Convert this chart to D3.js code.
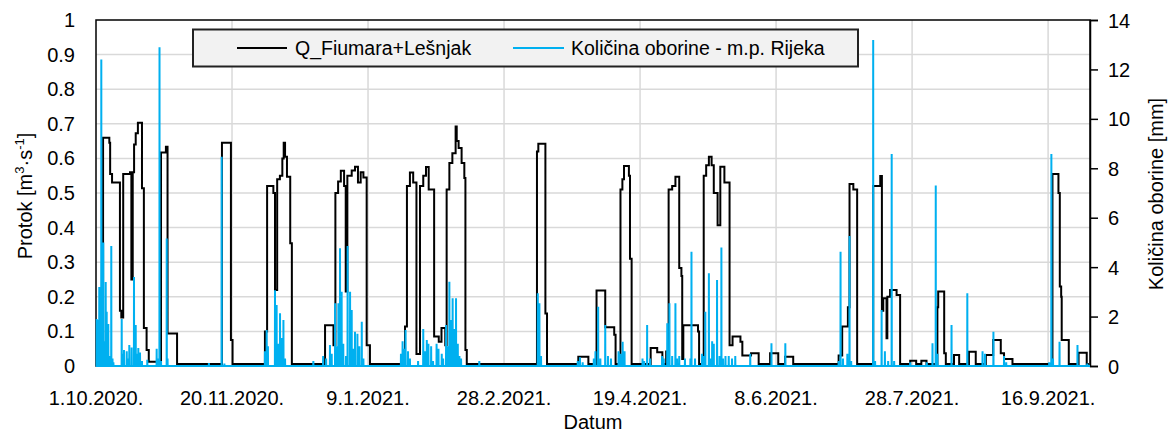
<!DOCTYPE html>
<html>
<head>
<meta charset="utf-8">
<script src="https://cdn.jsdelivr.net/npm/d3@7"></script>
<style>
  body { margin: 0; background: #fff; }
  text { font-family: "Liberation Sans", Arial, sans-serif; fill: #000; }
</style>
</head>
<body>
<div id="chart"></div>
<script>
// day offsets counted from 1.10.2020
var qSteps = [
  [0, 0.0], [2.6, 0.66], [4.9, 0.645], [5.2, 0.555], [5.9, 0.53], [8.8, 0.16], [9.3, 0.14],
  [10.0, 0.555], [12.5, 0.56], [13.0, 0.25], [13.5, 0.56], [14.0, 0.64], [14.6, 0.673],
  [15.4, 0.703], [16.9, 0.514], [17.6, 0.11], [18.6, 0.046], [19.4, 0.012],
  [23.9, 0.617], [25.7, 0.634], [26.3, 0.094], [29.8, 0.006],
  [46.3, 0.645], [49.6, 0.075], [50.2, 0.006],
  [62.1, 0.1], [62.9, 0.52], [65.2, 0.5], [65.8, 0.22], [66.6, 0.54], [67.6, 0.55],
  [68.5, 0.6], [69.0, 0.645], [69.5, 0.605], [70.2, 0.547], [71.4, 0.355], [72.0, 0.006],
  [84.2, 0.118], [87.3, 0.06], [88.0, 0.5], [89.0, 0.533], [90.0, 0.564], [91.2, 0.52],
  [91.8, 0.215], [92.4, 0.55], [94.0, 0.565], [95.2, 0.576], [96.3, 0.53], [97.3, 0.56],
  [98.3, 0.545], [99.5, 0.06], [100.7, 0.006],
  [113.6, 0.114], [114.3, 0.52], [115.4, 0.559], [116.6, 0.53], [117.8, 0.035],
  [119.1, 0.52], [120.3, 0.55], [121.3, 0.575], [122.3, 0.51], [124.3, 0.085], [126.0, 0.07],
  [127.0, 0.11], [128.4, 0.06], [128.9, 0.51], [129.9, 0.587], [131.0, 0.615], [132.2, 0.692],
  [132.6, 0.65], [133.3, 0.63], [134.4, 0.587], [135.4, 0.543], [135.8, 0.046], [136.3, 0.006],
  [162.1, 0.62], [162.6, 0.642], [165.2, 0.152], [165.8, 0.006],
  [177.3, 0.027], [181.0, 0.006],
  [184.0, 0.218], [187.2, 0.112], [190.5, 0.09], [191.0, 0.006],
  [192.8, 0.51], [193.5, 0.54], [194.1, 0.578], [195.9, 0.55], [196.3, 0.31], [196.9, 0.006],
  [203.9, 0.052], [206.3, 0.04], [208.2, 0.006], [209.6, 0.042], [210.5, 0.51], [211.8, 0.52],
  [213.0, 0.547], [214.4, 0.283], [215.2, 0.26], [215.5, 0.02], [215.9, 0.118], [221.3, 0.1],
  [221.7, 0.006],
  [223.4, 0.55], [224.3, 0.58], [225.3, 0.605], [226.3, 0.58], [227.1, 0.5], [228.5, 0.407],
  [229.5, 0.576], [231.0, 0.53], [232.9, 0.06], [234.0, 0.085], [236.9, 0.07], [237.6, 0.03],
  [240.8, 0.037], [243.6, 0.006],
  [247.8, 0.037], [250.8, 0.006], [253.3, 0.027], [256.3, 0.006],
  [273.0, 0.03], [274.3, 0.114], [276.4, 0.17], [277.0, 0.526], [278.4, 0.51], [279.8, 0.006],
  [285.7, 0.52], [288.3, 0.549], [288.9, 0.16], [289.4, 0.196], [290.6, 0.08], [290.9, 0.2],
  [291.9, 0.22], [294.3, 0.205], [295.6, 0.006],
  [299.3, 0.015], [301.5, 0.006], [303.4, 0.015], [305.3, 0.006],
  [309.3, 0.17], [309.6, 0.215], [311.8, 0.037], [312.4, 0.006], [315.4, 0.032], [317.3, 0.006],
  [320.9, 0.041], [323.4, 0.006], [327.1, 0.032], [329.8, 0.075], [332.6, 0.037], [333.8, 0.02],
  [336.9, 0.006],
  [351.6, 0.555], [353.8, 0.5], [354.3, 0.23], [354.8, 0.2], [355.0, 0.075], [357.6, 0.006],
  [361.2, 0.038], [364.2, 0.006], [365, 0.006]
];

var rainEvents = [
  [0.26, 1.9], [0.55, 1.5], [0.85, 1.86], [1.2, 3.2], [1.47, 2.5], [1.95, 12.4], [2.3, 1.2],
  [2.68, 5.0], [3.1, 1.0], [3.57, 3.4], [3.93, 2.2], [4.52, 1.7], [4.96, 0.4], [5.62, 4.86],
  [6.07, 0.3], [6.4, 0.15],
  [9.45, 1.9], [9.74, 0.5], [10.3, 0.65], [11.3, 0.6], [11.76, 0.3], [12.24, 0.85], [13.1, 0.75],
  [13.97, 3.6], [14.6, 1.66], [15.07, 0.5], [15.55, 0.73], [16.18, 0.55], [16.9, 0.2], [18.86, 0.25],
  [22.3, 0.7], [22.6, 0.3], [23.35, 12.9], [23.9, 0.2], [26.0, 5.16], [26.3, 0.3],
  [41.5, 0.12], [46.2, 8.47], [47.2, 0.1],
  [62.1, 0.6], [62.75, 1.46], [63.2, 0.8], [65.8, 3.07], [66.4, 2.47], [67.0, 0.9], [67.65, 2.13],
  [68.3, 1.13], [68.9, 1.86], [69.5, 0.3], [79.9, 0.2],
  [83.5, 0.4], [84.6, 0.3], [86.0, 0.85], [86.65, 0.5], [87.9, 2.54], [88.5, 0.8], [89.1, 2.54],
  [89.7, 4.76], [90.3, 3.0], [90.9, 0.9], [91.9, 0.4], [92.5, 4.86], [93.4, 3.0], [94.0, 2.27],
  [94.6, 0.7], [95.2, 1.39], [96.1, 1.3], [96.8, 0.8], [97.7, 1.79], [98.3, 0.3],
  [112.1, 0.5], [112.7, 1.0], [113.2, 0.7], [113.8, 1.46], [114.7, 0.6], [115.4, 0.3], [118.4, 0.2],
  [120.3, 1.5], [121.0, 0.6], [121.6, 1.05], [122.2, 0.9], [123.2, 0.8], [123.9, 0.2], [125.2, 0.9],
  [125.9, 0.7], [127.1, 0.5], [127.6, 0.3], [128.7, 1.66], [129.2, 0.8], [129.9, 3.41], [130.5, 1.86],
  [131.1, 2.74], [131.6, 1.5], [132.35, 2.74], [133.0, 0.9], [133.6, 0.4], [134.2, 0.3], [140.9, 0.2],
  [162.4, 2.94], [163.0, 2.54], [163.6, 0.4],
  [177.1, 0.2], [177.9, 0.35], [178.9, 0.15],
  [183.0, 0.3], [183.6, 0.6], [184.6, 2.4], [185.4, 0.3], [187.2, 1.66], [188.2, 0.4], [189.3, 0.3],
  [192.1, 0.6], [192.8, 0.5], [193.6, 0.98], [194.3, 0.6], [200.9, 0.3], [201.5, 0.2], [202.6, 1.66],
  [203.7, 0.3], [208.1, 0.4], [208.7, 0.3], [210.0, 1.73], [210.8, 2.54], [211.8, 0.4], [213.0, 2.54],
  [213.6, 0.3], [214.4, 0.4], [216.5, 0.3], [218.5, 0.3], [218.9, 4.62], [220.2, 0.3], [222.8, 0.5],
  [223.3, 0.4], [224.0, 2.2], [225.3, 3.75], [225.9, 0.3], [226.5, 1.0], [227.1, 0.9], [228.3, 3.48],
  [229.2, 0.4], [229.9, 4.79], [230.5, 0.3], [231.4, 0.4], [232.6, 0.4], [233.8, 0.3], [235.0, 0.4],
  [240.5, 0.5],
  [248.3, 0.92], [253.4, 0.92],
  [273.0, 0.2], [273.7, 4.62], [274.6, 0.3], [276.2, 0.5], [277.0, 5.26], [277.6, 0.2],
  [285.7, 13.19], [286.4, 0.2], [288.8, 2.27], [290.0, 0.6], [291.2, 0.2], [292.5, 8.58], [293.4, 0.2],
  [299.3, 0.15], [305.4, 0.15], [307.5, 0.92], [308.7, 7.3], [309.3, 0.5], [314.5, 1.66],
  [320.3, 2.94], [325.9, 0.6], [326.8, 0.5], [329.9, 1.39], [333.8, 0.4], [334.6, 0.15],
  [350.4, 0.15], [351.2, 8.58], [351.8, 0.3], [354.2, 0.98], [360.8, 0.85], [364.4, 0.1]
];

var xTickDays = [0, 50, 100, 150, 200, 250, 300, 350];
var leftTicks = [0, 0.1, 0.2, 0.3, 0.4, 0.5, 0.6, 0.7, 0.8, 0.9, 1];
var rightTicks = [0, 2, 4, 6, 8, 10, 12, 14];
var seriesNames = ["Q_Fiumara+Lešnjak", "Količina oborine - m.p. Rijeka"];

var W = 1173, H = 434;
var pLeft = 96, pRight = 1090, pTop = 20, pBottom = 366;
var start = Date.UTC(2020, 9, 1);
function dayToDate(d) { return new Date(start + d * 86400000); }

var x = d3.scaleUtc()
    .domain([dayToDate(0), dayToDate(365.4)])
    .range([pLeft, pRight]);
var yL = d3.scaleLinear().domain([0, 1]).range([pBottom, pTop]);
var yR = d3.scaleLinear().domain([0, 14]).range([pBottom, pTop]);

var svg = d3.select("#chart").append("svg")
    .attr("width", W).attr("height", H);

// grid
var grid = svg.append("g").attr("stroke", "#d9d9d9").attr("stroke-width", 1.5);
grid.selectAll("line.h").data(leftTicks.slice(1, -1)).enter().append("line")
    .attr("x1", pLeft).attr("x2", pRight)
    .attr("y1", function(d) { return yL(d); }).attr("y2", function(d) { return yL(d); });
grid.selectAll("line.v").data(xTickDays.slice(1)).enter().append("line")
    .attr("y1", pTop).attr("y2", pBottom)
    .attr("x1", function(d) { return x(dayToDate(d)); })
    .attr("x2", function(d) { return x(dayToDate(d)); });

// frame
svg.append("rect")
    .attr("x", pLeft).attr("y", pTop)
    .attr("width", pRight - pLeft).attr("height", pBottom - pTop)
    .attr("fill", "none").attr("stroke", "#000").attr("stroke-width", 1.5);

// left axis labels
svg.append("g").selectAll("text").data(leftTicks).enter().append("text")
    .attr("x", 75).attr("y", function(d) { return yL(d) + 7; })
    .attr("text-anchor", "end").attr("font-size", 20)
    .text(function(d) { return d === 0 || d === 1 ? d : d.toFixed(1); });

// right axis
var ra = svg.append("g")
    .attr("transform", "translate(" + pRight + ",0)")
    .call(d3.axisRight(yR).tickValues(rightTicks).tickSize(8).tickPadding(10));
ra.select(".domain").attr("stroke", "#000").attr("stroke-width", 1.5);
ra.selectAll(".tick line").attr("stroke", "#000").attr("stroke-width", 1.5);
ra.selectAll(".tick text").attr("font-size", 20)
    .attr("font-family", "'Liberation Sans', Arial, sans-serif").attr("dy", "0.35em");

// x labels
var fmt = d3.utcFormat("%-d.%-m.%Y.");
svg.append("g").selectAll("text").data(xTickDays).enter().append("text")
    .attr("x", function(d) { return x(dayToDate(d)); })
    .attr("y", 405).attr("text-anchor", "middle").attr("font-size", 20)
    .text(function(d) { return fmt(dayToDate(d)); });

svg.append("text").attr("x", (pLeft + pRight) / 2).attr("y", 429)
    .attr("text-anchor", "middle").attr("font-size", 20).text("Datum");

var lt = svg.append("text")
    .attr("transform", "translate(32,196) rotate(-90)")
    .attr("text-anchor", "middle").attr("font-size", 20);
lt.append("tspan").text("Protok [m");
lt.append("tspan").attr("font-size", 13).attr("dy", -8).text("3");
lt.append("tspan").attr("dy", 8).text("·s");
lt.append("tspan").attr("font-size", 13).attr("dy", -8).text("-1");
lt.append("tspan").attr("dy", 8).text("]");

svg.append("text")
    .attr("transform", "translate(1163,194) rotate(-90)")
    .attr("text-anchor", "middle").attr("font-size", 20)
    .text("Količina oborine [mm]");

// Q line
var qLine = d3.line()
    .x(function(d) { return x(dayToDate(d[0])); })
    .y(function(d) { return yL(d[1]); })
    .curve(d3.curveStepAfter);
svg.append("path").datum(qSteps)
    .attr("d", qLine)
    .attr("fill", "none").attr("stroke", "#000").attr("stroke-width", 2);

// rain line: zero baseline with spikes
var rainPts = [[0, 0]];
rainEvents.forEach(function(e) {
    rainPts.push([e[0] - 0.04, 0], [e[0], e[1]], [e[0] + 0.04, 0]);
});
rainPts.push([365.4, 0]);
var rLine = d3.line()
    .x(function(d) { return x(dayToDate(d[0])); })
    .y(function(d) { return yR(d[1]); });
svg.append("path").datum(rainPts)
    .attr("d", rLine)
    .attr("fill", "none").attr("stroke", "#00b0f0").attr("stroke-width", 2)
    .attr("stroke-linejoin", "miter");

// legend
var lg = svg.append("g");
lg.append("rect").attr("x", 193).attr("y", 29.5).attr("width", 665).attr("height", 37)
    .attr("fill", "#f2f2f2").attr("stroke", "#222").attr("stroke-width", 2);
lg.append("line").attr("x1", 237).attr("x2", 287).attr("y1", 48).attr("y2", 48)
    .attr("stroke", "#000").attr("stroke-width", 2);
lg.append("text").attr("x", 295).attr("y", 55).attr("font-size", 19.5).text(seriesNames[0]);
lg.append("line").attr("x1", 513).attr("x2", 564).attr("y1", 48).attr("y2", 48)
    .attr("stroke", "#00b0f0").attr("stroke-width", 2);
lg.append("text").attr("x", 571).attr("y", 55).attr("font-size", 19.5).text(seriesNames[1]);
</script>
</body>
</html>
